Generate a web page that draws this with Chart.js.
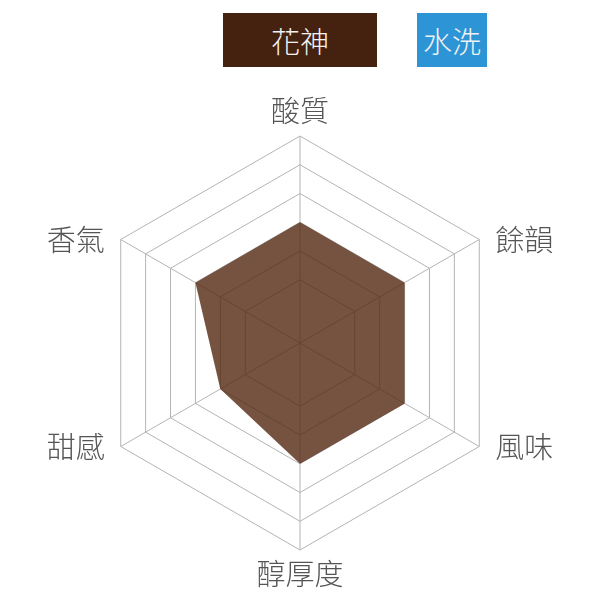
<!DOCTYPE html>
<html lang="zh-Hant">

<head>
    <meta charset="UTF-8">
    <title>風味雷達圖</title>
    <script src="https://cdn.jsdelivr.net/npm/chart.js"></script>
    <style>
        body {
            margin: 0;
            background: #fff;
            font-family: "Noto Sans CJK TC", "Noto Sans", sans-serif;
        }

        .wrap {
            position: relative;
            width: 600px;
            height: 600px;
        }

        .tag {
            position: absolute;
            top: 13px;
            height: 54px;
            line-height: 54px;
            text-align: center;
            font-size: 29px;
            font-weight: 300;
            color: #f2f2f2;
            z-index: 2;
        }

        #tagVariety {
            left: 223px;
            width: 154px;
            background: #45220f;
        }

        #tagProcess {
            left: 417px;
            width: 70px;
            background: #2d95d6;
        }
    </style>
</head>

<body>

    <div class="wrap">
        <div class="tag" id="tagVariety">花神</div>
        <div class="tag" id="tagProcess">水洗</div>
        <canvas id="radarChart"></canvas>
    </div>

    <script>
        const categories = ['酸質', '餘韻', '風味', '醇厚度', '甜感', '香氣'];
        const scores = [7, 7, 7, 7, 6, 7];
        const ringValues = [5, 6, 7, 8, 9, 10];
        const scaleMin = 2.8;
        const scaleMax = 10;

        // axis names drawn next to the outer polygon corners
        const axisNames = {
            id: 'axisNames',
            afterDraw(chart) {
                const scale = chart.scales.r;
                const ctx = chart.ctx;
                ctx.save();
                ctx.font = '300 29px "Noto Sans CJK TC"';
                ctx.fillStyle = '#555';
                ctx.textBaseline = 'middle';
                categories.forEach((name, i) => {
                    const p = scale.getPointPosition(i, scale.drawingArea);
                    let x = p.x;
                    let y = p.y;
                    if (Math.abs(p.x - scale.xCenter) < 1) {
                        ctx.textAlign = 'center';
                        y += p.y < scale.yCenter ? -25 : 24;
                    } else if (p.x > scale.xCenter) {
                        ctx.textAlign = 'left';
                        x += 16;
                    } else {
                        ctx.textAlign = 'right';
                        x -= 16;
                    }
                    ctx.fillText(name, x, y);
                });
                ctx.restore();
            }
        };

        const ctx = document.getElementById('radarChart').getContext('2d');
        new Chart(ctx, {
            type: 'radar',
            data: {
                labels: categories,
                datasets: [{
                    label: '花神',
                    data: scores,
                    backgroundColor: 'rgba(84, 39, 16, 0.8)',
                    borderWidth: 0,
                    pointRadius: 0,
                    fill: true
                }]
            },
            options: {
                responsive: true,
                maintainAspectRatio: false,
                animation: false,
                layout: {
                    padding: { top: 136, bottom: 50, left: 0, right: 0 }
                },
                plugins: {
                    legend: { display: false },
                    tooltip: { enabled: false }
                },
                scales: {
                    r: {
                        min: scaleMin,
                        max: scaleMax,
                        ticks: { display: false },
                        afterBuildTicks: scale => {
                            scale.ticks = [scaleMin, ...ringValues].map(v => ({ value: v }));
                        },
                        grid: { color: '#b4b4b4', lineWidth: 1 },
                        angleLines: { color: '#b4b4b4', lineWidth: 1 },
                        pointLabels: { display: false }
                    }
                }
            },
            plugins: [axisNames]
        });
    </script>

</body>

</html>
